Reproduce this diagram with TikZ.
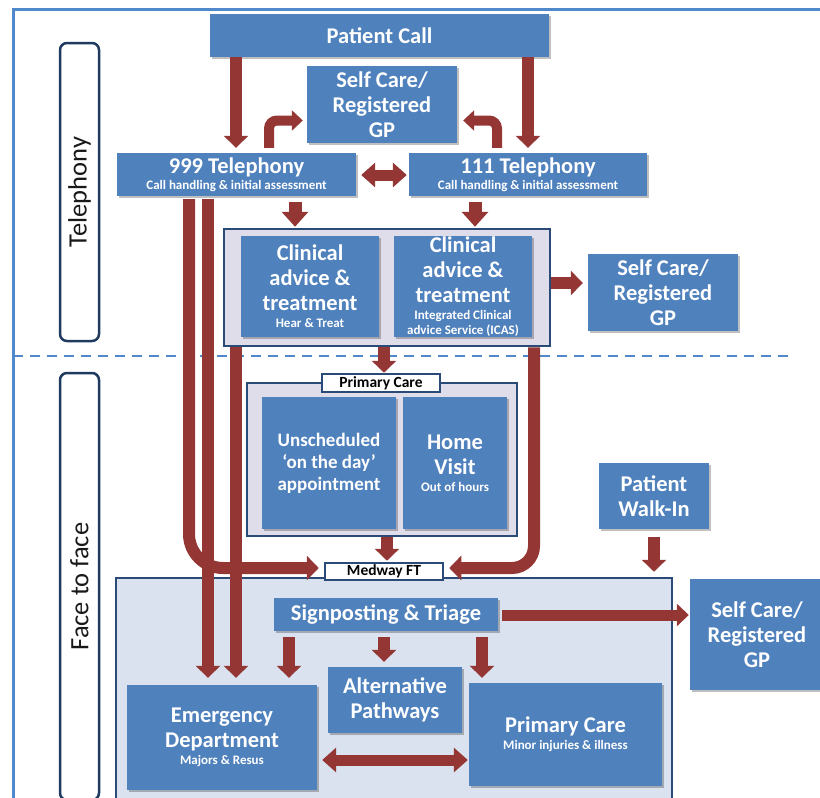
\documentclass[tikz,border=0pt]{standalone}
\usepackage{fontspec}
\setmainfont{Carlito}
\usetikzlibrary{arrows.meta,shadows}
\definecolor{boxblue}{HTML}{4F81BD}
\definecolor{arrowred}{HTML}{943634}
\definecolor{navy}{HTML}{2A4A78}
\definecolor{darknavy}{HTML}{1F3A5F}
\definecolor{lav}{HTML}{E0DDEB}
\definecolor{lightbg}{HTML}{D9E2EE}
\definecolor{framebl}{HTML}{5088CC}
\newcommand{\subt}[1]{{\fontsize{13}{14}\selectfont #1}}
\begin{document}
\begin{tikzpicture}[x=1pt,y=-1pt,
  box/.style={fill=boxblue, draw=none, text=white, inner sep=0pt, align=center,
    font=\bfseries\fontsize{22.5}{25}\selectfont,
    drop shadow={shadow xshift=1.5pt, shadow yshift=-1.5pt, opacity=0.25, fill=black}},
  grp/.style={draw=navy, line width=2.5pt, fill=lav, inner sep=0pt},
  bigbox/.style={draw=navy, line width=2.5pt, fill=lightbg, inner sep=0pt},
  tag/.style={draw=navy, line width=2.5pt, fill=white, inner sep=0pt, text=black,
    font=\bfseries\fontsize{15.5}{16}\selectfont},
  side/.style={draw=darknavy, line width=2.5pt, fill=white, rounded corners=7pt,
    inner sep=0pt, text=black!90, font=\fontsize{26.5}{28}\selectfont, rotate=90},
  arr/.style={draw=arrowred, line width=12pt, -{Triangle[width=24pt,length=12pt]}},
  arrs/.style={draw=arrowred, line width=10pt, -{Triangle[width=20pt,length=11pt]}},
  arrm/.style={draw=arrowred, line width=13pt, -{Triangle[width=26pt,length=15pt]}},
  darr/.style={draw=arrowred, line width=11pt, {Triangle[width=24pt,length=14pt]}-{Triangle[width=24pt,length=14pt]}},
  frame/.style={draw=framebl, line width=3pt},
]
\useasboundingbox (0,0) rectangle (820,798);
\clip (0,0) rectangle (820,798);

% frame and separator
\draw[frame] (13,830) -- (13,9) -- (830,9);
\draw[draw=framebl, line width=2pt, dash pattern=on 10pt off 7pt] (13,356) -- (795,356);

% side labels
\node[side, minimum width=298pt, minimum height=39pt] (tel) at (79.5,192) {Telephony};
\node[side, minimum width=427pt, minimum height=39pt] (f2f) at (79.5,586.5) {Face to face};

% top part
\node[box, minimum width=339pt, minimum height=43pt] (pcall) at (379.5,35.5) {Patient Call};
\node[box, minimum width=150pt, minimum height=77pt] (selftop) at (382,104.5) {Self Care/\\Registered\\GP};
\node[box, minimum width=239pt, minimum height=43pt] (t999) at (236.5,174.5) {999 Telephony\\[-9pt]\subt{Call handling \& initial assessment}};
\node[box, minimum width=238pt, minimum height=43pt] (t111) at (528,174.5) {111 Telephony\\[-9pt]\subt{Call handling \& initial assessment}};

\node[grp, minimum width=326pt, minimum height=117pt] (clin) at (387,287.5) {};
\node[box, minimum width=138pt, minimum height=101pt] (clinL) at (310,286.5) {Clinical\\advice \&\\treatment\\[-8pt]\subt{Hear \& Treat}};
\node[box, minimum width=138pt, minimum height=101pt] (clinR) at (463,286.5) {Clinical\\advice \&\\treatment\\[-8pt]\subt{Integrated Clinical}\\[-10pt]\subt{advice Service (ICAS)}};
\node[box, minimum width=150pt, minimum height=77pt] (selfmid) at (663,292.5) {Self Care/\\Registered\\GP};

% primary care group
\node[grp, minimum width=270pt, minimum height=153pt] (pcg) at (382,459.5) {};
\node[tag, minimum width=118pt, minimum height=18pt] (pclbl) at (381,383) {Primary Care};
\node[box, minimum width=134pt, minimum height=132pt, font=\bfseries\fontsize{19}{22}\selectfont] (unsch) at (329,463) {Unscheduled\\‘on the day’\\appointment};
\node[box, minimum width=104pt, minimum height=132pt] (home) at (455,463) {Home\\Visit\\[-8pt]\subt{Out of hours}};
\node[box, minimum width=110pt, minimum height=66pt] (walk) at (654,496) {Patient\\Walk-In};

% face to face big box
\node[bigbox, minimum width=556pt, minimum height=232pt] (big) at (394,694) {};
\node[tag, minimum width=118pt, minimum height=17pt] (medway) at (384,571.5) {Medway FT};
\node[box, minimum width=224pt, minimum height=33pt] (sign) at (386,614.5) {Signposting \& Triage};
\node[box, minimum width=134pt, minimum height=111pt] (selfbot) at (757,634.5) {Self Care/\\Registered\\GP};
\node[box, minimum width=134pt, minimum height=66pt] (alt) at (395,700) {Alternative\\Pathways};
\node[box, minimum width=190pt, minimum height=105pt] (ed) at (222,737.5) {Emergency\\Department\\[-8pt]\subt{Majors \& Resus}};
\node[box, minimum width=193pt, minimum height=103pt] (pcb) at (565.5,734.5) {Primary Care\\[-8pt]\subt{Minor injuries \& illness}};

% helper coordinates
\coordinate (x189) at (189,0);
\coordinate (x208) at (208,0);
\coordinate (x236) at (236,0);
\coordinate (x269) at (269,0);
\coordinate (x289) at (289,0);
\coordinate (x295) at (295,0);
\coordinate (x384) at (384,0);
\coordinate (x387) at (387,0);
\coordinate (x475) at (475,0);
\coordinate (x482) at (482,0);
\coordinate (x497) at (497,0);
\coordinate (x528) at (528,0);
\coordinate (x534) at (534,0);
\coordinate (x654) at (654,0);
\coordinate (y120) at (0,120.5);
\coordinate (y175) at (0,175);
\coordinate (y283) at (0,283);
\coordinate (y568) at (0,568);
\coordinate (y615) at (0,615);
\coordinate (y760) at (0,760);

% arrows
\draw[arr, shorten >=5pt] (pcall.south -| x236) -- (t999.north -| x236);
\draw[arr, shorten >=5pt] (pcall.south -| x528) -- (t111.north -| x528);
\draw[arrs, rounded corners=8pt, shorten <=5pt, shorten >=4pt] (t999.north -| x269) |- (selftop.west |- y120);
\draw[arrs, rounded corners=8pt, shorten <=5pt, shorten >=6pt] (t111.north -| x497) |- (selftop.east |- y120);
\draw[darr, shorten <=5pt, shorten >=2pt] (t999.east |- y175) -- (t111.west |- y175);
\draw[arrm, shorten <=6pt, shorten >=1pt] (t999.south -| x295) -- (clin.north -| x295);
\draw[arrm, shorten <=6pt, shorten >=1pt] (t111.south -| x475) -- (clin.north -| x475);
\draw[arr, shorten >=5pt] (clin.east |- y283) -- (selfmid.west |- y283);
\draw[arr, shorten >=0pt] (clin.south -| x384) -- (pclbl.north -| x384);
\draw[arr, shorten >=1pt] (pcg.south -| x387) -- (medway.north -| x387);
\draw[arr, shorten <=8pt, shorten >=5pt] (walk.south -| x654) -- (big.north -| x654);

\draw[arr, rounded corners=34pt, shorten <=3pt, shorten >=5pt] (t999.south -| x189) |- (medway.west |- y568);
\draw[arr, shorten <=3pt, shorten >=7pt] (t999.south -| x208) -- (ed.north -| x208);
\draw[arr, shorten >=7pt] (clin.south -| x236) -- (ed.north -| x236);
\draw[arr, rounded corners=22pt, shorten >=5pt] (clin.south -| x534) |- (medway.east |- y568);

\draw[arr, shorten <=6pt, shorten >=7pt] (sign.south -| x289) -- (ed.north -| x289);
\draw[arr, shorten <=6pt, shorten >=5pt] (sign.south -| x384) -- (alt.north -| x384);
\draw[arr, shorten <=6pt, shorten >=5pt] (sign.south -| x482) -- (pcb.north -| x482);
\draw[arr, line width=11pt, -{Triangle[width=22pt,length=12pt]}, shorten <=4pt, shorten >=1pt] (sign.east |- y615) -- (selfbot.west |- y615);
\draw[darr, shorten <=5pt, shorten >=1pt] (ed.east |- y760) -- (pcb.west |- y760);
\end{tikzpicture}
\end{document}
